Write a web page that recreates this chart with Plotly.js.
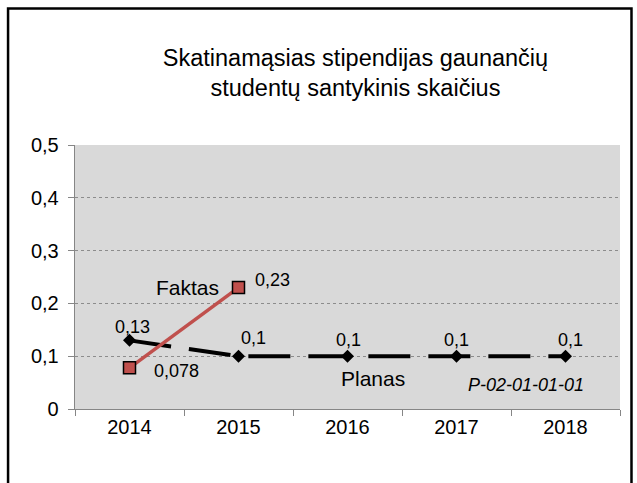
<!DOCTYPE html>
<html>
<head>
<meta charset="utf-8">
<script src="https://cdn.plot.ly/plotly-3.0.1.min.js"></script>
<style>
  html, body { margin: 0; padding: 0; background: #fff; }
  #chart { width: 637px; height: 483px; }
</style>
</head>
<body>
<div id="chart"></div>
<script>
// ---- data ----
const years = ['2014', '2015', '2016', '2017', '2018'];
const planas = [0.13, 0.1, 0.1, 0.1, 0.1];
const faktasYears = ['2014', '2015'];
const faktas = [0.078, 0.23];
const titleText = 'Skatinamąsias stipendijas gaunančių<br>studentų santykinis skaičius';
const yTicks = [0, 0.1, 0.2, 0.3, 0.4, 0.5];

const fmt = v => String(v).replace('.', ',');
const FONT = '"Liberation Sans", Arial, sans-serif';

// label offsets (pixels) for data labels
const planasShift = [[3, 13], [15, 18], [1, 16], [0, 16], [5, 16]];
const faktasShift = [[47, -3], [34, 8]];

const traces = [
  {
    x: years, y: planas, type: 'scatter', mode: 'lines+markers', name: 'Planas',
    line: { color: '#000000', width: 4, dash: '42px,18px' },
    marker: { symbol: 'diamond', size: 10, color: '#000000' },
    hoverinfo: 'x+y'
  },
  {
    x: faktasYears, y: faktas, type: 'scatter', mode: 'lines+markers', name: 'Faktas',
    line: { color: '#c0504d', width: 3.5 },
    marker: { symbol: 'square', size: 12, color: '#c0504d', line: { color: '#000000', width: 1.5 } },
    hoverinfo: 'x+y'
  }
];

const annotations = [];
planas.forEach((v, i) => annotations.push({
  x: years.indexOf(years[i]), y: v, xref: 'x', yref: 'y', text: fmt(v), showarrow: false,
  xanchor: 'center', yanchor: 'middle',
  xshift: planasShift[i][0], yshift: planasShift[i][1],
  font: { family: FONT, size: 18, color: '#000' }
}));
faktas.forEach((v, i) => annotations.push({
  x: years.indexOf(faktasYears[i]), y: v, xref: 'x', yref: 'y', text: fmt(v), showarrow: false,
  xanchor: 'center', yanchor: 'middle',
  xshift: faktasShift[i][0], yshift: faktasShift[i][1],
  font: { family: FONT, size: 18, color: '#000' }
}));
annotations.push(
  { x: 0.207, y: 0.462, xref: 'paper', yref: 'paper', text: 'Faktas', showarrow: false,
    xanchor: 'center', yanchor: 'middle',
    font: { family: FONT, size: 21, color: '#000' } },
  { x: 0.546, y: 0.117, xref: 'paper', yref: 'paper', text: 'Planas', showarrow: false,
    xanchor: 'center', yanchor: 'middle',
    font: { family: FONT, size: 21, color: '#000' } },
  { x: 0.827, y: 0.091, xref: 'paper', yref: 'paper', text: '<i>P-02-01-01-01</i>', showarrow: false,
    xanchor: 'center', yanchor: 'middle',
    font: { family: FONT, size: 18, color: '#000' } }
);

const layout = {
  width: 637, height: 483,
  margin: { l: 75, r: 16.5, t: 144.7, b: 74, pad: 0 },
  paper_bgcolor: '#ffffff',
  plot_bgcolor: '#d9d9d9',
  separators: ',.',
  showlegend: false,
  font: { family: FONT, color: '#000' },
  title: {
    text: titleText,
    x: 0.558, xref: 'container', xanchor: 'center',
    y: 0.864, yref: 'container', yanchor: 'top',
    font: { family: FONT, size: 23.5, color: '#000' }
  },
  xaxis: {
    type: 'category',
    range: [-0.5, years.length - 0.5],
    tickson: 'boundaries',
    ticks: 'outside', ticklen: 6, tickcolor: '#868686', tickwidth: 1,
    showline: true, linecolor: '#868686', linewidth: 1.3,
    showgrid: false, zeroline: false,
    tickangle: 0,
    tickfont: { family: FONT, size: 20, color: '#000' },
    fixedrange: true
  },
  yaxis: {
    range: [0, 0.5], tickvals: yTicks,
    ticks: 'outside', ticklen: 6, tickcolor: '#868686', tickwidth: 1,
    showline: true, linecolor: '#868686', linewidth: 1.3,
    showgrid: true, gridcolor: '#8c8c8c', gridwidth: 1, griddash: 'dot',
    zeroline: false,
    tickfont: { family: FONT, size: 20, color: '#000' },
    ticklabelstandoff: 5,
    fixedrange: true
  },
  annotations: annotations,
  shapes: [
    { type: 'rect', xref: 'paper', yref: 'paper',
      x0: (8 - 75) / 545.5, x1: (632 - 75) / 545.5,
      y0: -0.4, y1: (409 - 8) / 264.3,
      line: { color: '#000', width: 2.5 }, fillcolor: 'rgba(0,0,0,0)', layer: 'above' }
  ]
};

Plotly.newPlot('chart', traces, layout, { displayModeBar: false, staticPlot: true });
</script>
</body>
</html>
